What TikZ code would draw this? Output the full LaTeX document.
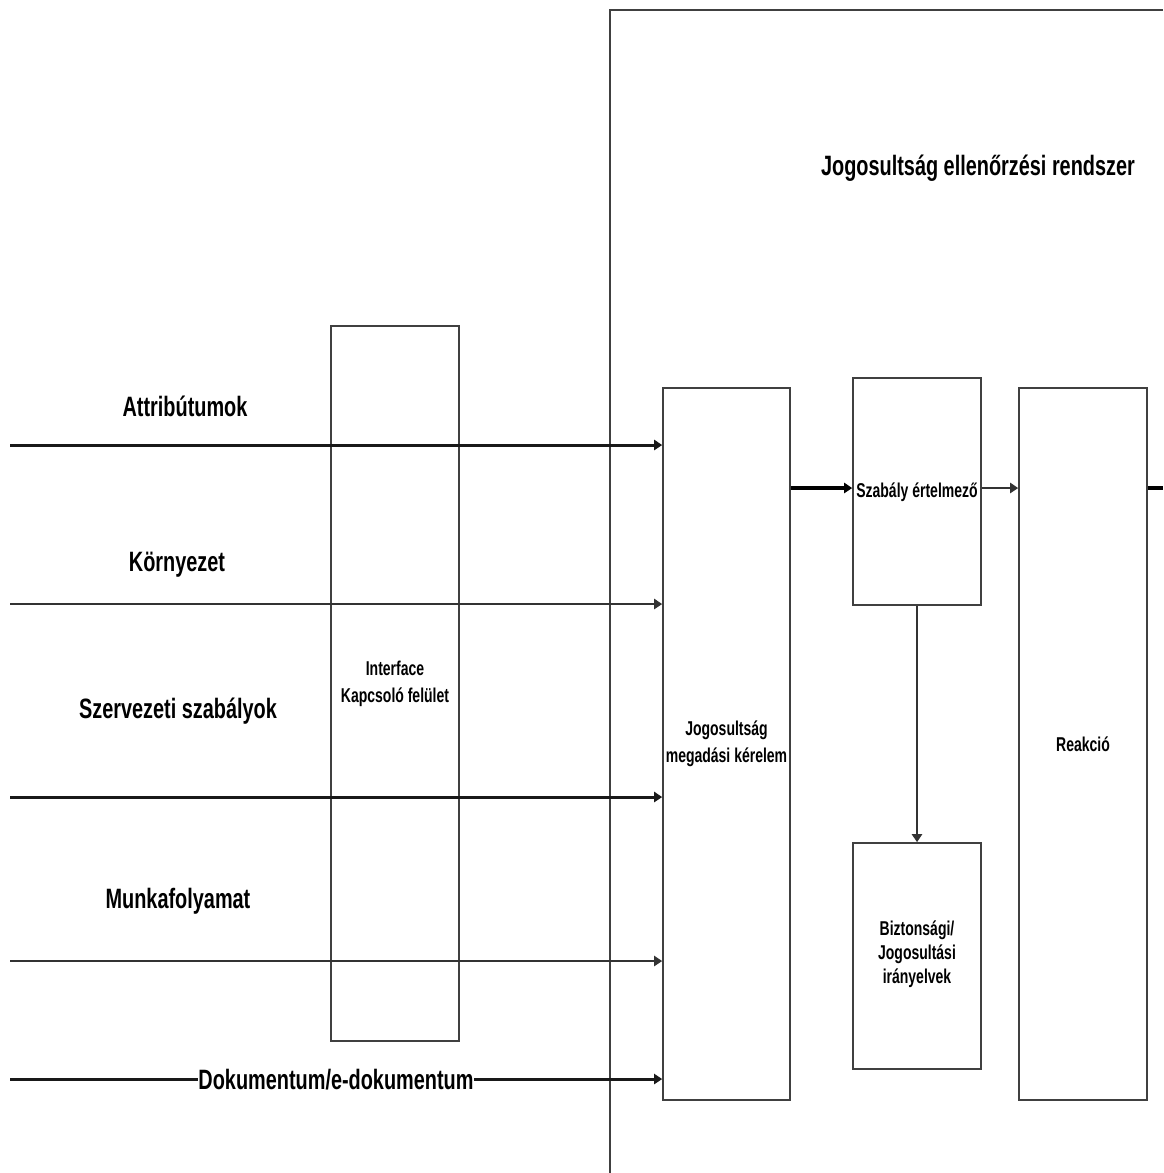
\documentclass[tikz,border=0pt]{standalone}
\usepackage{fontspec}
\setmainfont{Liberation Sans}
\usetikzlibrary{arrows.meta}
\begin{document}
\begin{tikzpicture}[x=1pt,y=-1pt,
  box/.style={draw=black!75,line width=1.6pt,minimum width=#1,inner sep=0pt},
  big/.style={font=\bfseries\fontsize{28}{32}\selectfont,xscale=0.71,inner sep=0pt},
  small/.style={font=\bfseries\fontsize{20}{27}\selectfont,xscale=0.7,align=center,inner sep=0pt},
  tip/.style={-{Triangle[length=8pt,width=10pt]}},
  heavy/.style={line width=3pt,black!90},
  light/.style={line width=2pt,black!80}]
\useasboundingbox (0,0) rectangle (1163,1173);

% system frame, running off the right and bottom edges
\draw[line width=2.6pt,black!75] (610,1173) -- (610,10) -- (1163,10);
\node[big] (title) at (978,168) {Jogosultság ellenőrzési rendszer};

% boxes
\node[box=128pt,minimum height=715pt] (iface) at (395,683.5) {};
\node[box=127pt,minimum height=712pt] (jog) at (726.5,744) {};
\node[box=128pt,minimum height=227pt] (szab) at (917,491.5) {};
\node[box=128pt,minimum height=226pt] (bizt) at (917,956) {};
\node[box=128pt,minimum height=712pt] (reak) at (1083,744) {};

\node[small] (ifacet) at (iface) {Interface\\Kapcsoló felület};
\node[small] (jogt) at (jog) {Jogosultság\\megadási kérelem};
\node[small] (szabt) at (917,492) {Szabály értelmező};
\node[small,font=\bfseries\fontsize{20}{24}\selectfont] (biztt) at (917,954) {Biztonsági/\\Jogosultási\\irányelvek};
\node[small] (reakt) at (reak) {Reakció};

% inputs
\coordinate (in1) at (10,445);
\coordinate (in2) at (10,604);
\coordinate (in3) at (10,797);
\coordinate (in4) at (10,961);
\coordinate (in5) at (10,1079);
\draw[heavy,tip] (in1) -- (jog.west |- in1);
\draw[light,tip] (in2) -- (jog.west |- in2);
\draw[heavy,tip] (in3) -- (jog.west |- in3);
\draw[light,tip] (in4) -- (jog.west |- in4);
\draw[heavy,tip] (in5) -- (jog.west |- in5);

\node[big] (l1) at (185,406) {Attribútumok};
\node[big] (l2) at (177,565) {Környezet};
\node[big] (l3) at (178,711) {Szervezeti szabályok};
\node[big] (l4) at (178,901) {Munkafolyamat};
\node[big,fill=white,inner xsep=1pt] (l5) at (336,1080) {Dokumentum/e-dokumentum};

% internal flow
\coordinate (flow) at (0,488);
\coordinate (out) at (1163,488);
\draw[line width=3.5pt,black,tip] (jog.east |- flow) -- (szab.west |- flow);
\draw[light,tip] (szab.east |- flow) -- (reak.west |- flow);
\draw[line width=3.5pt,black] (reak.east |- flow) -- (out);
\draw[light,tip] (szab.south) -- (bizt.north);
\end{tikzpicture}
\end{document}
